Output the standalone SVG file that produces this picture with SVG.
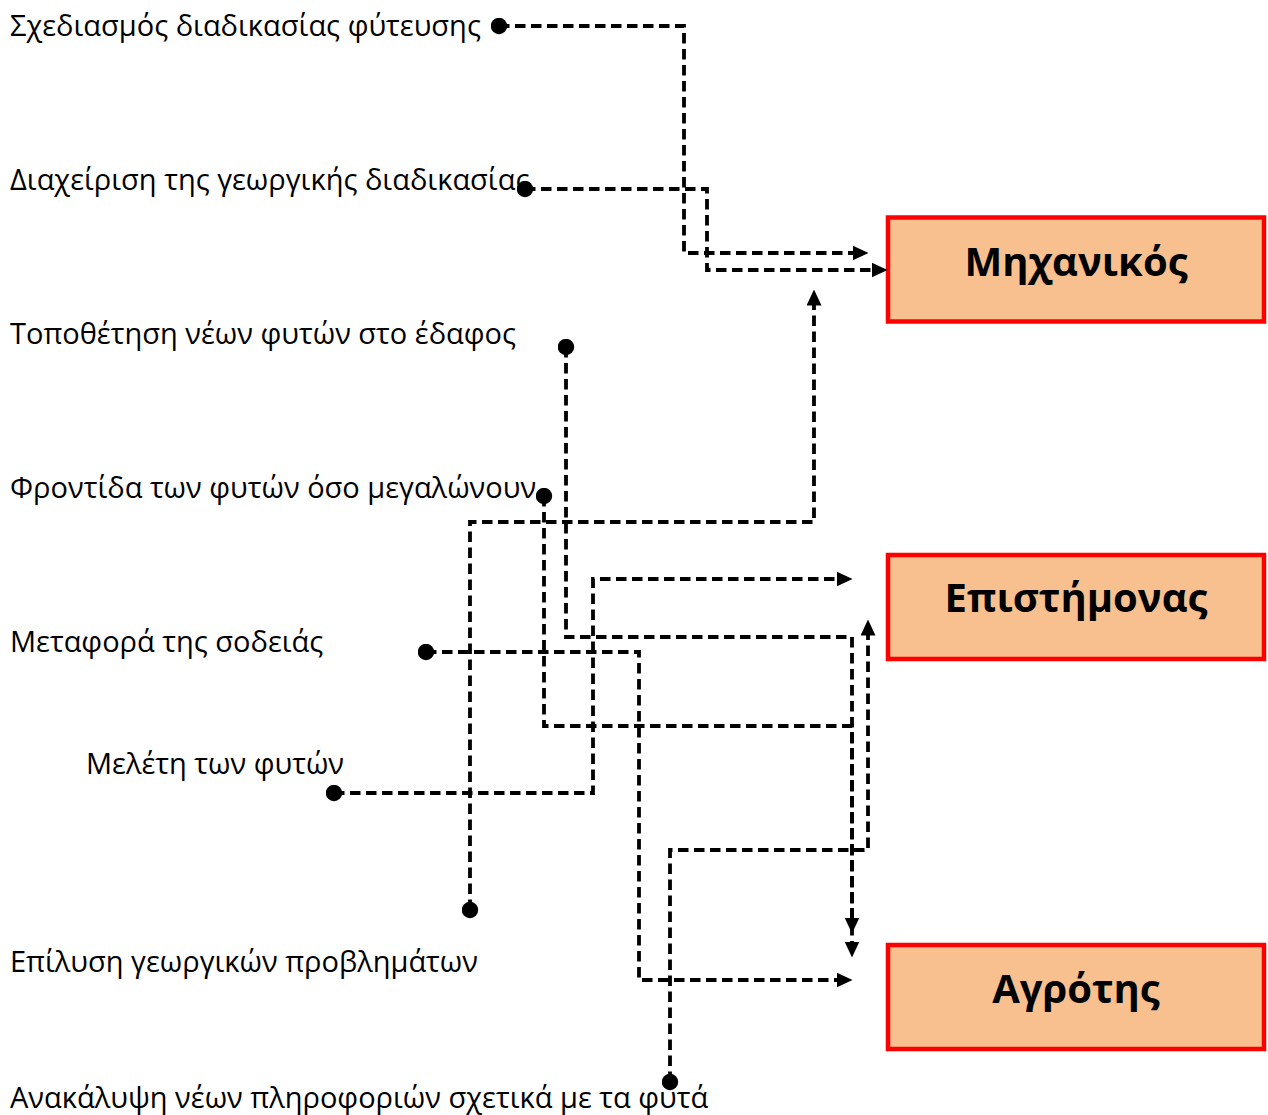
<svg xmlns="http://www.w3.org/2000/svg" width="1268" height="1115" viewBox="0 0 1268 1115">
  <style>
    .lbl { font-family: "Open Sans", "Noto Sans", "DejaVu Sans", sans-serif; font-size: 29px; fill: #000; }
    .role rect { fill: #F8C08F; stroke: #FF0000; stroke-width: 4.5; }
    .role text { font-family: "Open Sans", "Noto Sans", "DejaVu Sans", sans-serif; font-size: 40px; font-weight: bold; fill: #000; text-anchor: middle; }
    .link { fill: none; stroke: #000; stroke-width: 3.8; stroke-dasharray: 10.5 5.5; marker-start: url(#dot); marker-end: url(#arrow); }
  </style>
  <defs>
    <marker id="arrow" viewBox="0 0 16 15" markerWidth="16" markerHeight="15" refX="0.5" refY="7.5" orient="auto" markerUnits="userSpaceOnUse">
      <path d="M0,0 L16,7.5 L0,15 z" fill="#000"/>
    </marker>
    <marker id="dot" viewBox="0 0 17 17" markerWidth="17" markerHeight="17" refX="8.5" refY="8.5" markerUnits="userSpaceOnUse">
      <circle cx="8.5" cy="8.5" r="8.2" fill="#000"/>
    </marker>
  </defs>

  <rect width="1268" height="1115" fill="#fff"/>

  <!-- task labels -->
  <g id="tasks">
    <text id="t-design" class="lbl" x="10" y="36">Σχεδιασμός διαδικασίας φύτευσης</text>
    <text id="t-manage" class="lbl" x="10" y="190">Διαχείριση της γεωργικής διαδικασίας</text>
    <text id="t-planting" class="lbl" x="10" y="344">Τοποθέτηση νέων φυτών στο έδαφος</text>
    <text id="t-care" class="lbl" x="10" y="498">Φροντίδα των φυτών όσο μεγαλώνουν</text>
    <text id="t-harvest" class="lbl" x="10" y="652">Μεταφορά της σοδειάς</text>
    <text id="t-study" class="lbl" x="86" y="774">Μελέτη των φυτών</text>
    <text id="t-solve" class="lbl" x="10" y="972">Επίλυση γεωργικών προβλημάτων</text>
    <text id="t-discover" class="lbl" x="10" y="1108">Ανακάλυψη νέων πληροφοριών σχετικά με τα φυτά</text>
  </g>

  <!-- role boxes -->
  <g id="engineer" class="role">
    <rect x="888" y="217.5" width="376" height="104"/>
    <text x="1076" y="276">Μηχανικός</text>
  </g>
  <g id="scientist" class="role">
    <rect x="888" y="555" width="376" height="104"/>
    <text x="1076" y="612">Επιστήμονας</text>
  </g>
  <g id="farmer" class="role">
    <rect x="888" y="945" width="376" height="104"/>
    <text x="1076" y="1003">Αγρότης</text>
  </g>

  <!-- task-to-role connectors -->
  <g id="connectors">
    <path class="link" d="M499,26 H684 V253 H853"/>
    <path class="link" d="M525,189 H707 V270 H872"/>
    <path class="link" d="M470,910 V522 H814 V305"/>
    <path class="link" d="M334,793 H593 V579 H837"/>
    <path class="link" d="M426,652 H639 V980 H837"/>
    <path class="link" d="M670,1082 V850 H868 V635"/>
    <path class="link" d="M566,347 V637 H852 V942"/>
    <path class="link" d="M544,496 V726 H852 V918"/>
  </g>
</svg>
